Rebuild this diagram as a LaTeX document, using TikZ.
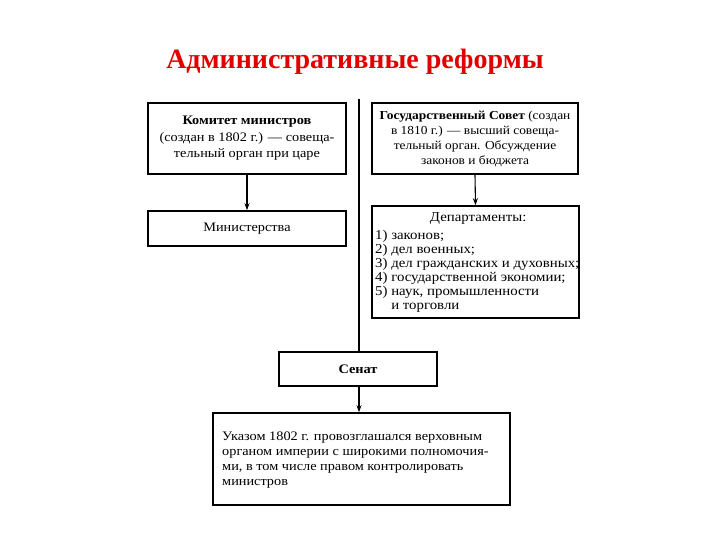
\documentclass[tikz,border=0pt]{standalone}
\usepackage{fontspec}
\setmainfont[FakeStretch=1.1]{Liberation Serif}
\newfontfamily\titlefont{Liberation Serif}
\usetikzlibrary{arrows.meta}
\definecolor{titlered}{RGB}{225,0,0}
\begin{document}
\begin{tikzpicture}[x=1pt,y=-1pt,
  box/.style={draw=black,line width=1.6pt,rectangle,inner sep=0pt,align=center,font=\fontsize{13}{15.5}\selectfont},
  conn/.style={line width=1.1pt,-{Stealth[length=7pt,width=5pt]}},
  plain/.style={line width=1.1pt},
  txt/.style={inner sep=0pt,align=left,font=\fontsize{13.5}{14}\selectfont}]
\useasboundingbox (0,0) rectangle (720,540);
\node[font=\titlefont\bfseries\fontsize{28}{32}\selectfont,text=titlered] (title) at (355,62) {Административные реформы};
\node[box,minimum width=198pt,minimum height=71pt,font=\fontsize{13}{16.5}\selectfont] (kom) at (247,138.5)
  {\textbf{Комитет министров}\\(создан в 1802 г.) — совеща-\\тельный орган при царе};
\node[box,minimum width=198pt,minimum height=35pt] (min) at (247,228.5) {Министерства};
\node[box,minimum width=206pt,minimum height=71pt,font=\fontsize{12.2}{15}\selectfont] (gos) at (475,138.5)
  {\textbf{Государственный Совет} (создан\\в 1810 г.) — высший совеща-\\тельный орган. Обсуждение\\законов и бюджета};
\node[box,minimum width=207pt,minimum height=112pt] (dep) at (475.5,262) {};
\node[txt,anchor=north west] (deptxt) at (375,212)
  {\makebox[206pt][c]{Департаменты:}\\[4pt]
   1) законов;\\2) дел военных;\\3) дел гражданских и духовных;\\4) государственной экономии;\\5) наук, промышленности\\\hphantom{5) }и торговли};
\node[box,minimum width=158pt,minimum height=34pt] (sen) at (358,369) {\textbf{Сенат}};
\node[box,minimum width=297pt,minimum height=92pt] (ukaz) at (361.5,459) {};
\node[txt,anchor=north west,font=\fontsize{13}{15}\selectfont] (ukaztxt) at (222,432)
  {Указом 1802 г. провозглашался верховным\\органом империи с широкими полномочия-\\ми, в том числе правом контролировать\\министров};
\coordinate (top) at (359,99);
\draw[plain] (top) -- (top |- sen.north);
\draw[conn] (kom.south) -- (min.north);
\draw[conn] (gos.south) -- (dep.north);
\draw[conn] (top |- sen.south) -- (top |- ukaz.north);
\end{tikzpicture}
\end{document}
